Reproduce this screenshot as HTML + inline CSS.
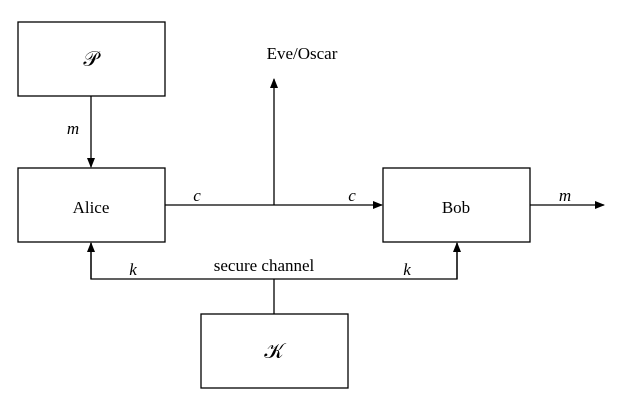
<!DOCTYPE html>
<html><head><style>body{margin:0;background:#fff}</style></head><body>
<svg width="623" height="400" xmlns="http://www.w3.org/2000/svg" font-family="Liberation Serif, serif" font-size="17">
<defs><marker id="a" markerWidth="10" markerHeight="8" refX="9" refY="4" orient="auto" markerUnits="userSpaceOnUse"><path d="M0,0 L10,4 L0,8 z" fill="#000"/></marker></defs>
<g fill="none" stroke="#000" stroke-width="1.3">
<rect x="18" y="22" width="147" height="74"/>
<rect x="18" y="168" width="147" height="74"/>
<rect x="383" y="168" width="147" height="74"/>
<rect x="201" y="314" width="147" height="74"/>
<line x1="91" y1="96" x2="91" y2="167" marker-end="url(#a)"/>
<line x1="165" y1="205" x2="382" y2="205" marker-end="url(#a)"/>
<line x1="274" y1="205" x2="274" y2="79" marker-end="url(#a)"/>
<line x1="530" y1="205" x2="604" y2="205" marker-end="url(#a)"/>
<polyline points="91,243 91,279 457,279 457,243"/>
<line x1="91" y1="279" x2="91" y2="243" marker-end="url(#a)"/>
<line x1="457" y1="279" x2="457" y2="243" marker-end="url(#a)"/>
<line x1="274" y1="279" x2="274" y2="314"/>
</g>
<g text-anchor="middle">
<text x="91" y="66" font-size="21" font-family="DejaVu Serif, Liberation Serif, serif">𝒫</text>
<text x="91" y="213">Alice</text>
<text x="456" y="213">Bob</text>
<text x="274" y="358" font-size="21" font-family="DejaVu Serif, Liberation Serif, serif">𝒦</text>
<text x="302" y="59">Eve/Oscar</text>
<text x="264" y="271">secure channel</text>
<g font-style="italic">
<text x="73" y="134">m</text>
<text x="197" y="201">c</text>
<text x="352" y="201">c</text>
<text x="565" y="201">m</text>
<text x="133" y="275">k</text>
<text x="407" y="275">k</text>
</g></g>
</svg>
</body></html>
